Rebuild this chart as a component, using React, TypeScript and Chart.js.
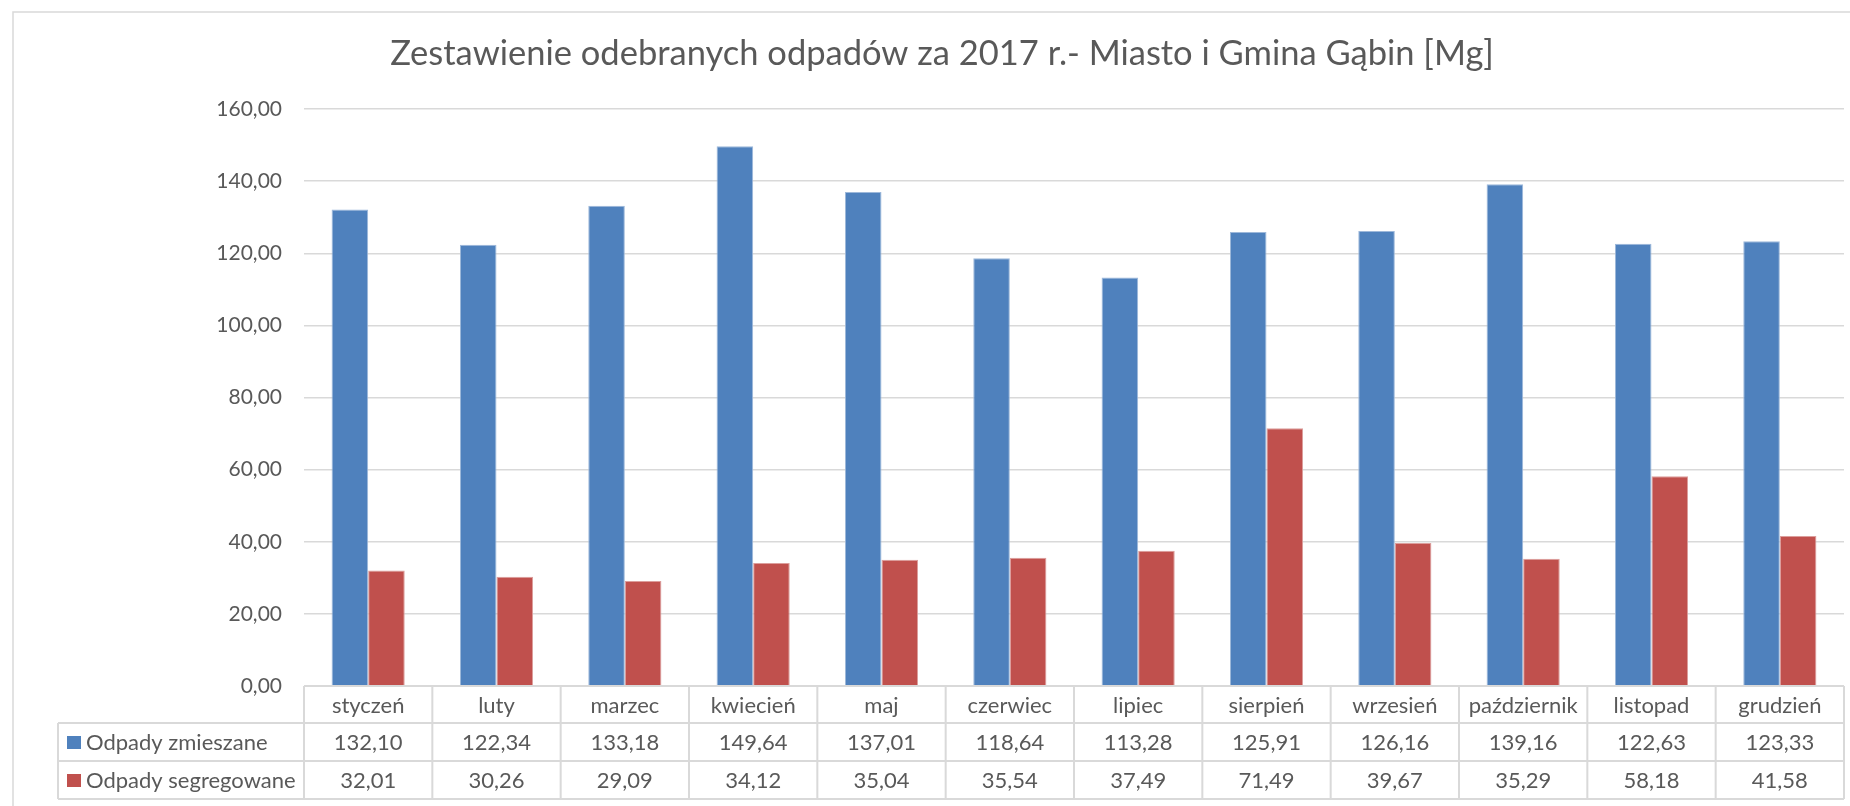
import React, { useEffect, useRef } from "react";
import { Chart, registerables } from "chart.js";

Chart.register(...registerables);

const months = [
  "styczeń", "luty", "marzec", "kwiecień", "maj", "czerwiec",
  "lipiec", "sierpień", "wrzesień", "październik", "listopad", "grudzień",
];
const mixedWaste = [132.10, 122.34, 133.18, 149.64, 137.01, 118.64, 113.28, 125.91, 126.16, 139.16, 122.63, 123.33];
const sortedWaste = [32.01, 30.26, 29.09, 34.12, 35.04, 35.54, 37.49, 71.49, 39.67, 35.29, 58.18, 41.58];
const seriesNames = ["Odpady zmieszane", "Odpady segregowane"];
const titleText = "Zestawienie odebranych odpadów za 2017 r.- Miasto i Gmina Gąbin [Mg]";
const yMin = 0;
const yMax = 160;
const yStep = 20;

const BLUE = "#4F81BD";
const RED = "#C0504D";
const TEXT = "#595959";
const LINE = "#D9D9D9";
const FONT = "Lato";

const fmt = (v: number) => v.toFixed(2).replace(".", ",");

const tablePlugin = {
  id: "excelTable",
  beforeDraw(chart: any) {
    const ctx = chart.ctx;
    ctx.save();
    ctx.fillStyle = "#ffffff";
    ctx.fillRect(0, 0, chart.width, chart.height);
    ctx.strokeStyle = LINE;
    ctx.lineWidth = 1.5;
    ctx.beginPath();
    ctx.moveTo(13, chart.height);
    ctx.lineTo(13, 12);
    ctx.lineTo(chart.width, 12);
    ctx.stroke();
    // title
    ctx.fillStyle = TEXT;
    ctx.font = `34.5px ${FONT}`;
    ctx.textAlign = "center";
    ctx.textBaseline = "middle";
    ctx.fillText(titleText, 942, 54);
    ctx.restore();
  },
  afterDraw(chart: any) {
    const ctx = chart.ctx;
    const xs = chart.scales.x;
    const area = chart.chartArea;
    const n = months.length;
    const colW = (area.right - area.left) / n;
    const top = area.bottom;
    const r1 = top + 37;
    const r2 = r1 + 38;
    const r3 = r2 + 38;
    const legLeft = 58;
    ctx.save();
    ctx.strokeStyle = LINE;
    ctx.lineWidth = 2;
    ctx.beginPath();
    ctx.moveTo(area.left, top); ctx.lineTo(area.right, top);
    ctx.moveTo(legLeft, r1); ctx.lineTo(area.right, r1);
    ctx.moveTo(legLeft, r2); ctx.lineTo(area.right, r2);
    ctx.moveTo(legLeft, r3); ctx.lineTo(area.right, r3);
    ctx.moveTo(legLeft, r1); ctx.lineTo(legLeft, r3);
    for (let i = 0; i <= n; i++) {
      const x = area.left + i * colW;
      ctx.moveTo(x, top); ctx.lineTo(x, r3);
    }
    ctx.stroke();

    ctx.fillStyle = TEXT;
    ctx.font = `22px ${FONT}`;
    ctx.textBaseline = "middle";
    ctx.textAlign = "center";
    months.forEach((m, i) => {
      const cx = xs.getPixelForValue(i);
      ctx.fillText(m, cx, (top + r1) / 2 + 1);
      ctx.fillText(fmt(mixedWaste[i]), cx, (r1 + r2) / 2 + 1);
      ctx.fillText(fmt(sortedWaste[i]), cx, (r2 + r3) / 2 + 1);
    });
    const rows = [
      { y: (r1 + r2) / 2, c: BLUE, t: seriesNames[0] },
      { y: (r2 + r3) / 2, c: RED, t: seriesNames[1] },
    ];
    ctx.textAlign = "left";
    rows.forEach((r) => {
      ctx.fillStyle = r.c;
      ctx.fillRect(67, r.y - 6, 14, 13);
      ctx.fillStyle = TEXT;
      ctx.fillText(r.t, 86, r.y + 1);
    });
    ctx.restore();
  },
};

export default function App() {
  const ref = useRef<HTMLCanvasElement | null>(null);
  useEffect(() => {
    if (!ref.current) return;
    const chart = new Chart(ref.current, {
      type: "bar",
      data: {
        labels: months,
        datasets: [
          {
            label: seriesNames[0],
            data: mixedWaste,
            backgroundColor: BLUE,
            borderColor: "#9DB8DA",
            borderWidth: 1,
          },
          {
            label: seriesNames[1],
            data: sortedWaste,
            backgroundColor: RED,
            borderColor: "#DC9E9C",
            borderWidth: 1,
          },
        ],
      },
      options: {
        responsive: false,
        animation: false,
        layout: { padding: { top: 109, bottom: 120, left: 0, right: 6 } },
        datasets: {
          bar: { categoryPercentage: 0.57, barPercentage: 1.0 },
        },
        plugins: {
          legend: { display: false },
          title: { display: false },
          tooltip: { enabled: false },
        },
        scales: {
          x: {
            display: false,
            offset: true,
          },
          y: {
            min: yMin,
            max: yMax,
            afterFit: (s: any) => {
              s.width = 304;
            },
            border: { display: false },
            grid: { color: LINE, lineWidth: 1.5, drawTicks: false },
            ticks: {
              stepSize: yStep,
              padding: 22,
              color: TEXT,
              font: { family: FONT, size: 21 },
              callback: (v: any) => fmt(Number(v)),
            },
          },
        },
      },
      plugins: [tablePlugin],
    });
    return () => chart.destroy();
  }, []);
  return (
    <div style={{ position: "fixed", left: 0, top: 0, width: 1850, height: 806, background: "#fff" }}>
      <canvas ref={ref} width={1850} height={806} style={{ display: "block" }} />
    </div>
  );
}
